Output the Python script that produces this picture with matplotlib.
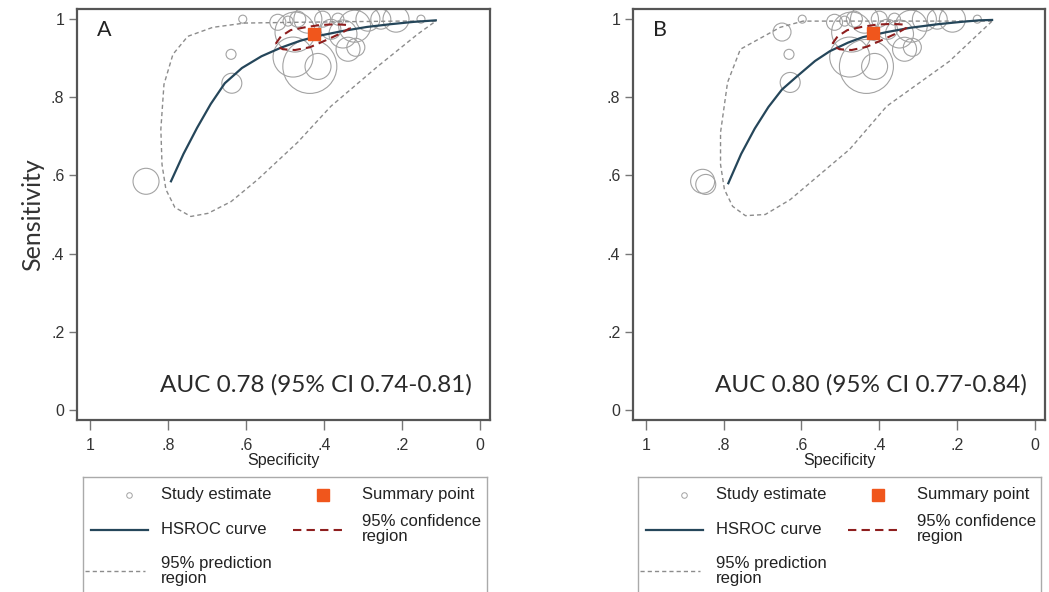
import matplotlib
matplotlib.use("Agg")
import matplotlib.pyplot as plt
import numpy as np

# ---------------- data ----------------
# Panel A
study_spec_a = [0.856, 0.636, 0.638, 0.608, 0.151, 0.441, 0.479, 0.436, 0.415, 0.321, 0.287,
                0.254, 0.215, 0.338, 0.318, 0.518, 0.382, 0.474, 0.467, 0.403, 0.351, 0.492, 0.364]
study_sens_a = [0.585, 0.836, 0.910, 1.000, 1.000, 1.000, 0.903, 0.879, 0.879, 0.982, 1.000,
                1.000, 1.000, 0.923, 0.928, 0.992, 0.974, 0.967, 1.000, 1.000, 0.962, 0.995, 1.000]
study_w_a = [13, 10, 5, 4, 4, 14, 20, 27, 13, 16, 12, 10, 13, 12, 9, 8, 10, 20, 8, 8, 14, 5, 6]

summary_a = (0.426, 0.962)

hsroc_spec_a = [0.792, 0.760, 0.725, 0.690, 0.654, 0.610, 0.560, 0.510, 0.460, 0.410,
                0.350, 0.290, 0.230, 0.170, 0.113]
hsroc_sens_a = [0.585, 0.655, 0.722, 0.783, 0.836, 0.875, 0.905, 0.927, 0.945, 0.958,
                0.970, 0.980, 0.987, 0.993, 0.997]

conf_spec_a = [0.523, 0.510, 0.485, 0.449, 0.410, 0.369, 0.338, 0.333, 0.356, 0.395, 0.436,
               0.474, 0.505, 0.521, 0.523]
conf_sens_a = [0.938, 0.956, 0.972, 0.979, 0.985, 0.987, 0.985, 0.977, 0.964, 0.946, 0.928,
               0.921, 0.923, 0.931, 0.938]

pred_spec_a = [0.113, 0.210, 0.467, 0.603, 0.685, 0.749, 0.787, 0.810, 0.818, 0.815, 0.805,
               0.782, 0.741, 0.697, 0.638, 0.569, 0.467, 0.382, 0.262, 0.159, 0.113]
pred_sens_a = [0.995, 0.995, 0.992, 0.990, 0.979, 0.956, 0.910, 0.833, 0.718, 0.628, 0.564,
               0.518, 0.495, 0.503, 0.533, 0.590, 0.685, 0.777, 0.879, 0.962, 0.995]

auc_a = "AUC 0.78 (95% CI 0.74-0.81)"

# Panel B
study_spec_b = [0.854, 0.846, 0.629, 0.632, 0.598, 0.650, 0.148, 0.438, 0.476, 0.433, 0.412,
                0.318, 0.284, 0.251, 0.212, 0.335, 0.315, 0.515, 0.379, 0.471, 0.464, 0.400,
                0.348, 0.489, 0.361]
study_sens_b = [0.585, 0.577, 0.838, 0.910, 1.000, 0.967, 1.000, 1.000, 0.903, 0.879, 0.879,
                0.982, 1.000, 1.000, 1.000, 0.923, 0.928, 0.992, 0.974, 0.967, 1.000, 1.000,
                0.962, 0.995, 1.000]
study_w_b = [12, 10, 10, 5, 4, 9, 4, 14, 20, 27, 13, 16, 12, 10, 13, 12, 9, 8, 10, 20, 8, 8,
             14, 5, 6]

summary_b = (0.417, 0.965)

hsroc_spec_b = [0.788, 0.755, 0.720, 0.685, 0.650, 0.611, 0.565, 0.527, 0.480, 0.442,
                0.380, 0.320, 0.250, 0.190, 0.143, 0.110]
hsroc_sens_b = [0.580, 0.655, 0.720, 0.775, 0.820, 0.854, 0.893, 0.918, 0.940, 0.954,
                0.967, 0.978, 0.987, 0.993, 0.997, 0.998]

conf_spec_b = [0.520, 0.507, 0.482, 0.446, 0.407, 0.366, 0.335, 0.330, 0.353, 0.392, 0.433,
               0.471, 0.502, 0.518, 0.520]
conf_sens_b = [0.938, 0.956, 0.972, 0.980, 0.986, 0.988, 0.986, 0.978, 0.965, 0.947, 0.929,
               0.921, 0.923, 0.931, 0.938]

pred_spec_b = [0.110, 0.348, 0.596, 0.655, 0.757, 0.790, 0.808, 0.808, 0.798, 0.777, 0.744,
               0.693, 0.629, 0.552, 0.476, 0.381, 0.220, 0.110]
pred_sens_b = [0.995, 0.995, 0.995, 0.979, 0.923, 0.838, 0.710, 0.628, 0.564, 0.521, 0.497,
               0.500, 0.538, 0.603, 0.667, 0.777, 0.892, 0.995]

auc_b = "AUC 0.80 (95% CI 0.77-0.84)"

ticks = [1, 0.8, 0.6, 0.4, 0.2, 0]
tick_labels = ["1", ".8", ".6", ".4", ".2", "0"]
ytick_labels = ["0", ".2", ".4", ".6", ".8", "1"]

# ---------------- styling ----------------
C_HSROC = "#25465a"
C_CONF = "#8e1e1e"
C_PRED = "#8c8c8c"
C_STUDY = "#a3a3a3"
C_SUMM = "#f0561c"
C_SPINE = "#555555"
SANS = ["Liberation Sans", "DejaVu Sans"]
HUM = ["Lato", "DejaVu Sans"]

W, H = 1049, 592
fig = plt.figure(figsize=(W / 100, H / 100), dpi=100)


def fx(px):
    return px / W


def fy(py):
    return 1 - py / H


def panel(left_px, right_px, label, spec, sens, w, summ, hs, hn, cs, cn, ps, pn, auc, ylabel):
    top_px, bot_px = 9, 420
    ax = fig.add_axes([fx(left_px), fy(bot_px), fx(right_px - left_px), (bot_px - top_px) / H])
    ax.set_xlim(1.033, -0.026)
    ax.set_ylim(-0.026, 1.026)
    for s in ax.spines.values():
        s.set_color(C_SPINE)
        s.set_linewidth(1.6)
    ax.set_xticks(ticks)
    ax.set_xticklabels(tick_labels, fontsize=11.5, family=SANS, color="#333333")
    ax.set_yticks(ticks[::-1])
    ax.set_yticklabels(ytick_labels, fontsize=11.5, family=SANS, color="#333333")
    ax.tick_params(axis="x", length=7, width=1, color="#777777", pad=6)
    ax.tick_params(axis="y", length=6, width=1, color="#777777", pad=3)

    sizes = [(1.44 * r) ** 2 for r in w]
    ax.scatter(spec, sens, s=sizes, facecolors="none", edgecolors=C_STUDY, linewidths=0.8,
               zorder=2)
    ax.plot(ps, pn, color=C_PRED, lw=1.0, ls=(0, (3, 2.2)), zorder=3)
    ax.plot(hs, hn, color=C_HSROC, lw=1.6, zorder=4)
    ax.plot(cs, cn, color=C_CONF, lw=1.5, ls=(0, (4, 2.5)), zorder=5)
    ax.plot([summ[0]], [summ[1]], marker="s", ms=9, color=C_SUMM, mec=C_SUMM, zorder=6, ls="none")

    ax.text(0.048, 0.95, label, transform=ax.transAxes, fontsize=15.5, family=HUM,
            ha="left", va="center", color="#222222")
    ax.text(0.956, 0.086, auc, transform=ax.transAxes, fontsize=17.5, family=HUM,
            ha="right", va="center", color="#2a2a2a")
    ax.set_xlabel("Specificity", fontsize=11.5, family=SANS, color="#222222", labelpad=0)
    if ylabel:
        ax.set_ylabel("Sensitivity", fontsize=18, family=HUM, color="#333333", labelpad=5)
    return ax


def legend_box(left_px, right_px):
    top_px, bot_px = 477, 605
    lw_px = right_px - left_px
    lh_px = bot_px - top_px
    lax = fig.add_axes([fx(left_px), fy(bot_px), fx(lw_px), lh_px / H])
    lax.set_xlim(0, lw_px)
    lax.set_ylim(lh_px, 0)
    lax.set_xticks([])
    lax.set_yticks([])
    for s in lax.spines.values():
        s.set_color("#aaaaaa")
        s.set_linewidth(1.0)
    fs = 12
    tc = "#222222"
    lax.plot([46], [18], marker="o", ms=4, mfc="none", mec=C_STUDY, mew=0.7)
    lax.text(78, 18, "Study estimate", fontsize=fs, family=SANS, va="center", color=tc)
    lax.plot([240], [18], marker="s", ms=9, color=C_SUMM)
    lax.text(279, 18, "Summary point", fontsize=fs, family=SANS, va="center", color=tc)
    lax.plot([8, 65], [53, 53], color=C_HSROC, lw=1.6)
    lax.text(78, 53, "HSROC curve", fontsize=fs, family=SANS, va="center", color=tc)
    lax.plot([210, 263], [53, 53], color=C_CONF, lw=1.5, ls=(0, (4, 2.5)))
    lax.text(279, 52, "95% confidence\nregion", fontsize=fs, family=SANS, va="center",
             color=tc, linespacing=1.05)
    lax.plot([2, 62], [94, 94], color=C_PRED, lw=1.0, ls=(0, (3, 2.2)))
    lax.text(78, 94, "95% prediction\nregion", fontsize=fs, family=SANS, va="center",
             color=tc, linespacing=1.05)
    return lax


panel(77, 490, "A", study_spec_a, study_sens_a, study_w_a, summary_a, hsroc_spec_a, hsroc_sens_a,
      conf_spec_a, conf_sens_a, pred_spec_a, pred_sens_a, auc_a, True)
panel(633, 1045, "B", study_spec_b, study_sens_b, study_w_b, summary_b, hsroc_spec_b, hsroc_sens_b,
      conf_spec_b, conf_sens_b, pred_spec_b, pred_sens_b, auc_b, False)
legend_box(83, 487)
legend_box(638, 1041)

fig.savefig("out.png", dpi=100)
